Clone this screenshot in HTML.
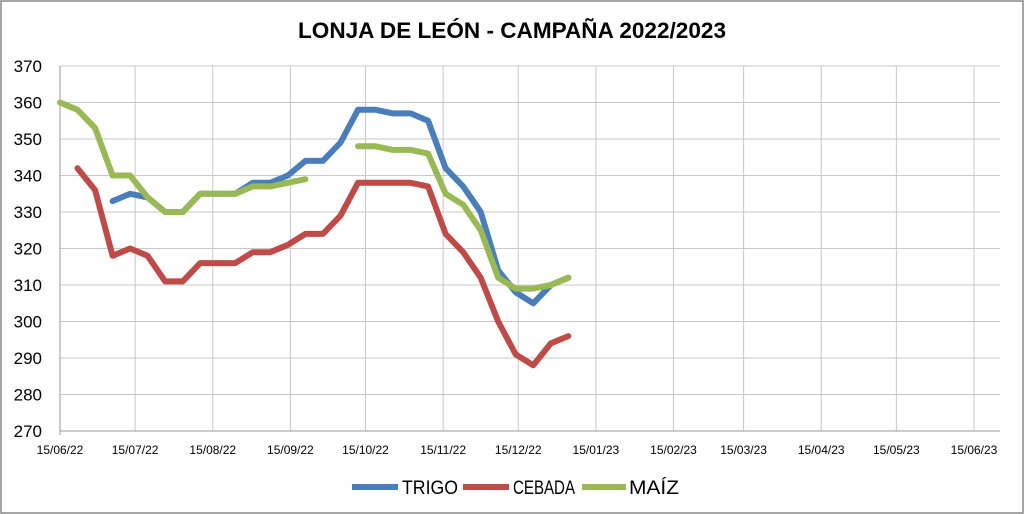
<!DOCTYPE html>
<html><head><meta charset="utf-8"><style>
body{margin:0;background:#fff;}
svg{display:block;font-family:"Liberation Sans",sans-serif;}
</style></head><body>
<svg id="c" width="1024" height="514">
<rect x="1" y="1" width="1022" height="512" fill="#fff" stroke="#888" stroke-width="1.5"/>
<text x="512" y="38" text-anchor="middle" font-size="22" font-weight="bold" textLength="428" lengthAdjust="spacingAndGlyphs">LONJA DE LEÓN - CAMPAÑA 2022/2023</text>
<g id="grid"></g><g id="series"></g>
<g>
<g><line x1="352" y1="487" x2="398" y2="487" stroke="#4a7ebb" stroke-width="6"/><text x="402" y="494" font-size="19" textLength="56" lengthAdjust="spacingAndGlyphs">TRIGO</text></g>
<g><line x1="463" y1="487" x2="509" y2="487" stroke="#be4b48" stroke-width="6"/><text x="513" y="494" font-size="19" textLength="62" lengthAdjust="spacingAndGlyphs">CEBADA</text></g>
<g><line x1="582" y1="487" x2="626" y2="487" stroke="#98b954" stroke-width="6"/><text x="629" y="494" font-size="19" textLength="50" lengthAdjust="spacingAndGlyphs">MAÍZ</text></g>
</g>
</svg>
<script>
const xLabels=["15/06/22","15/07/22","15/08/22","15/09/22","15/10/22","15/11/22","15/12/22","15/01/23","15/02/23","15/03/23","15/04/23","15/05/23","15/06/23"];
const xDays=[0,30,61,92,122,153,183,214,245,273,304,334,365];
const yTicks=[270,280,290,300,310,320,330,340,350,360,370];
const trigoStart=3;
const trigo=[333,335,334,330,330,335,335,335,338,338,340,344,344,349,358,358,357,357,355,342,337,330,314,308,305,310,312];
const cebadaStart=1;
const cebada=[342,336,318,320,318,311,311,316,316,316,319,319,321,324,324,329,338,338,338,338,337,324,319,312,300,291,288,294,296];
const maizA_Start=0;
const maizA=[360,358,353,340,340,334,330,330,335,335,335,337,337,338,339];
const maizB_Start=17;
const maizB=[348,348,347,347,346,335,332,325,312,309,309,310,312];
const NS="http://www.w3.org/2000/svg";
const X0=60,X1=974,Y0=431,Y1=66;
const xd=d=>X0+(X1-X0)*d/365;
const xw=i=>xd(i*7);
const y=v=>Y0-(v-270)/(370-270)*(Y0-Y1);
const g=document.getElementById('grid'),s=document.getElementById('series');
function mk(t,a,p){const e=document.createElementNS(NS,t);for(const k in a)e.setAttribute(k,a[k]);p.appendChild(e);return e;}
yTicks.forEach(v=>{
 const l=mk('line',{x1:X0,x2:1000,y1:y(v),y2:y(v),stroke:'#c8c8c8','stroke-width':1},g);
 
 
 const t=mk('text',{x:42,y:y(v)+6,'text-anchor':'end','font-size':17},g);t.textContent=v;
 
 
});
xDays.forEach((d,i)=>{
 const l=mk('line',{x1:xd(d),x2:xd(d),y1:Y1,y2:Y0+(i==0?4:0),stroke:i==0?'#999':'#c8c8c8','stroke-width':1},g);
 
 
 const t=mk('text',{x:xd(d),y:454,'text-anchor':'middle','font-size':12},g);t.textContent=xLabels[i];
 
 
});
mk('line',{x1:X0,x2:1000,y1:Y0,y2:Y0,stroke:'#999'},g);
function draw(arr,start,col,name){
 const pts=arr.map((v,i)=>xw(start+i).toFixed(1)+','+y(v).toFixed(1)).join(' ');
 const p=mk('polyline',{points:pts,fill:'none',stroke:col,'stroke-width':6,'stroke-linejoin':'round','stroke-linecap':'round'},s);
 
 
}
draw(trigo,trigoStart,'#4a7ebb','trigo-line');
draw(cebada,cebadaStart,'#be4b48','cebada-line');
draw(maizA,maizA_Start,'#98b954','maiz-line-1');
draw(maizB,maizB_Start,'#98b954','maiz-line-2');
</script>
</body></html>
